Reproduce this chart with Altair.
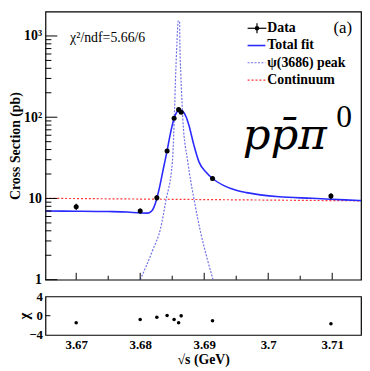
import altair as alt
import pandas as pd

# ---- measured points ----
energy = [3.6700, 3.6800, 3.6826, 3.6842, 3.6853, 3.6860, 3.6864, 3.6913, 3.7098]
xsec = [7.9, 7.0, 10.2, 38.5, 97.0, 124.0, 115.0, 17.6, 10.7]
xsec_err = [0.7, 0.5, 0.8, 2.0, 4.0, 4.5, 4.5, 1.2, 0.9]
chi = [-1.48, -0.79, -0.31, 0.03, -0.79, -1.48, -0.03, -1.06, -1.68]

# ---- curves ----
fit_x = [3.6652, 3.6700, 3.6750, 3.6780, 3.6801, 3.6812, 3.6818, 3.6822, 3.6826,
         3.6830, 3.6835, 3.6842, 3.6847, 3.6853, 3.6857, 3.6862, 3.6867, 3.6872,
         3.6876, 3.6884, 3.6892, 3.6903, 3.6913, 3.6930, 3.6950, 3.6966, 3.7017,
         3.7068, 3.7120, 3.7145]
fit_y = [7.0, 6.97, 6.9, 6.8, 6.62, 6.6, 7.0, 8.0, 10.0,
         13.5, 21.0, 38.5, 62.0, 97.0, 115.0, 122.5, 117.0, 100.0,
         80.0, 45.0, 28.0, 21.0, 17.6, 14.5, 12.6, 11.8, 10.5,
         10.05, 9.6, 9.4]

peak_x = [3.6800, 3.68195, 3.68323, 3.68400, 3.68503, 3.68538, 3.68554, 3.68574,
          3.68594, 3.68615, 3.68620, 3.68635, 3.68657, 3.68666, 3.68743, 3.68846,
          3.68949, 3.69052, 3.69138]
peak_y = [1.0, 2.31, 4.43, 9.3, 28.5, 132.0, 335.0, 811.0,
          1530.0, 1500.0, 811.0, 335.0, 132.0, 95.0, 28.5, 9.3,
          3.68, 1.75, 1.0]

cont_x = [3.6652, 3.7145]
cont_y = [10.05, 9.35]

# ---- axis ticks ----
x_major = [3.67, 3.68, 3.69, 3.70, 3.71]
x_minor = [3.675, 3.685, 3.695, 3.705]
y_major = [1, 10, 100, 1000]
y_minor = [2, 3, 4, 5, 6, 7, 8, 9, 20, 30, 40, 50, 60, 70, 80, 90,
           200, 300, 400, 500, 600, 700, 800, 900]
chi_ticks = [-4, 0, 4]

legend_labels = ["Data", "Total fit", "\u03c8(3686) peak", "Continuum"]

SERIF = "Liberation Serif"
W, H, HC = 320, 272, 39

pts = pd.DataFrame({"x": energy, "y": xsec, "chi": chi,
                    "lo": [v - e for v, e in zip(xsec, xsec_err)],
                    "hi": [v + e for v, e in zip(xsec, xsec_err)]})
fit = pd.DataFrame({"x": fit_x, "y": fit_y})
peak = pd.DataFrame({"x": peak_x, "y": peak_y})
cont = pd.DataFrame({"x": cont_x, "y": cont_y})
one = pd.DataFrame({"a": [0]})

xs = alt.Scale(domain=[3.6652, 3.7145], nice=False, zero=False)
ys = alt.Scale(type="log", domain=[1, 2000], nice=False)
cs = alt.Scale(domain=[-4, 4], nice=False)

yaxis = alt.Axis(values=y_major, ticks=False, domain=False, grid=False,
                 labelExpr="datum.value >= 1000 ? '10\u00b3' : datum.value >= 100 ? '10\u00b2' : datum.value >= 10 ? '10' : '1'",
                 labelFont=SERIF, labelFontWeight="bold", labelFontSize=14, labelColor="black",
                 labelPadding=4, title="Cross Section (pb)", titleFont=SERIF,
                 titleFontWeight="bold", titleFontSize=14, titleColor="black",
                 titleX=-30, titleBaseline="middle")


def X(field="x"):
    return alt.X(f"{field}:Q", scale=xs, axis=None)


def Y(field="y"):
    return alt.Y(f"{field}:Q", scale=ys, axis=yaxis)


cont_l = alt.Chart(cont).mark_line(color="#ff3333", strokeDash=[2, 2], strokeWidth=1.2, clip=True).encode(x=X(), y=Y())
peak_l = alt.Chart(peak).mark_line(color="#6f6fe8", strokeDash=[2, 1.5], strokeWidth=1.2, clip=True, interpolate="monotone").encode(x=X(), y=Y())
fit_l = alt.Chart(fit).mark_line(color="#2a2aff", strokeWidth=1.6, clip=True, interpolate="monotone").encode(x=X(), y=Y())
err = alt.Chart(pts).mark_rule(color="black", strokeWidth=1.2).encode(x=X(), y=Y("lo"), y2="hi:Q")
dots = alt.Chart(pts).mark_circle(color="black", opacity=1, size=26).encode(x=X(), y=Y())

xmaj = alt.Chart(pd.DataFrame({"v": x_major})).mark_rule(color="black").encode(x=X("v"), y=alt.value(H), y2=alt.value(H - 7))
xmin = alt.Chart(pd.DataFrame({"v": x_minor})).mark_rule(color="black").encode(x=X("v"), y=alt.value(H), y2=alt.value(H - 4))
ymaj = alt.Chart(pd.DataFrame({"v": y_major})).mark_rule(color="black").encode(y=Y("v"), x=alt.value(0), x2=alt.value(12))
ymin = alt.Chart(pd.DataFrame({"v": y_minor})).mark_rule(color="black").encode(y=Y("v"), x=alt.value(0), x2=alt.value(6))


def txt(s, x, y, size, weight="normal", font=SERIF, style="normal", align="left", baseline="middle"):
    return alt.Chart(one).mark_text(text=s, font=font, fontSize=size, fontWeight=weight, fontStyle=style,
                                    align=align, baseline=baseline, color="black").encode(x=alt.value(x), y=alt.value(y))


def hline(x1, x2, y, color, dash=None, width=1.4):
    kw = dict(color=color, strokeWidth=width)
    if dash:
        kw["strokeDash"] = dash
    return alt.Chart(one).mark_rule(**kw).encode(x=alt.value(x1), x2=alt.value(x2), y=alt.value(y))


leg_y = [17, 34.5, 52, 69.5]
legend = [
    hline(205, 224, leg_y[0], "black", width=1.2),
    alt.Chart(one).mark_rule(color="black", strokeWidth=1.2).encode(x=alt.value(214.5), y=alt.value(leg_y[0] - 5), y2=alt.value(leg_y[0] + 5)),
    alt.Chart(one).mark_circle(color="black", opacity=1, size=20).encode(x=alt.value(214.5), y=alt.value(leg_y[0])),
    hline(205, 223, leg_y[1], "#2a2aff", width=1.6),
    hline(205, 223, leg_y[2], "#6f6fe8", dash=[2, 1.5], width=1.2),
    hline(205, 223, leg_y[3], "#ff3333", dash=[2, 2], width=1.2),
]
for lab, yy in zip(legend_labels, leg_y):
    legend.append(txt(lab, 225, yy, 14, weight="bold"))

annots = [
    txt("\u03c7\u00b2/ndf=5.66/6", 25, 27, 14),
    txt("(a)", 292, 17, 17),
    txt("pp\u0304\u03c0", 200, 139, 44, font="DejaVu Serif", style="italic", baseline="alphabetic"),
    txt("0", 295, 117, 32, baseline="alphabetic"),
]

main = alt.layer(cont_l, peak_l, fit_l, err, dots, xmaj, xmin, ymaj, ymin, *legend, *annots).properties(width=W, height=H)

chi_x_axis = alt.Axis(values=x_major, format=".2~f", ticks=False, domain=False, grid=False,
                      labelFont=SERIF, labelFontWeight="bold", labelFontSize=13, labelColor="black",
                      labelPadding=4, title="\u221as (GeV)", titleFont=SERIF, titleFontWeight="bold",
                      titleFontSize=14, titleColor="black", titleY=25, titleBaseline="middle")
chi_y_axis = alt.Axis(values=chi_ticks, ticks=False, domain=False, grid=False,
                      labelFont=SERIF, labelFontWeight="bold", labelFontSize=13, labelColor="black",
                      labelPadding=3, title="\u03c7", titleFont=SERIF, titleFontWeight="bold",
                      titleFontSize=15, titleColor="black", titleX=-22, titleBaseline="middle")

chi_pts = alt.Chart(pts).mark_circle(color="black", opacity=1, size=13).encode(
    x=alt.X("x:Q", scale=xs, axis=chi_x_axis), y=alt.Y("chi:Q", scale=cs, axis=chi_y_axis))
chi_tick = alt.Chart(pd.DataFrame({"v": [0]})).mark_rule(color="black").encode(
    y=alt.Y("v:Q", scale=cs, axis=chi_y_axis), x=alt.value(0), x2=alt.value(5))

chi_panel = alt.layer(chi_pts, chi_tick).properties(width=W, height=HC)

chart = alt.vconcat(main, chi_panel, spacing=17, bounds="flush").properties(
    padding={"left": 0, "top": 0, "right": 0, "bottom": 0}, background="white"
).configure_view(stroke="black", strokeWidth=1.2).configure_axis(grid=False)

chart.save("out.html", embed_options={"renderer": "svg", "actions": False})
